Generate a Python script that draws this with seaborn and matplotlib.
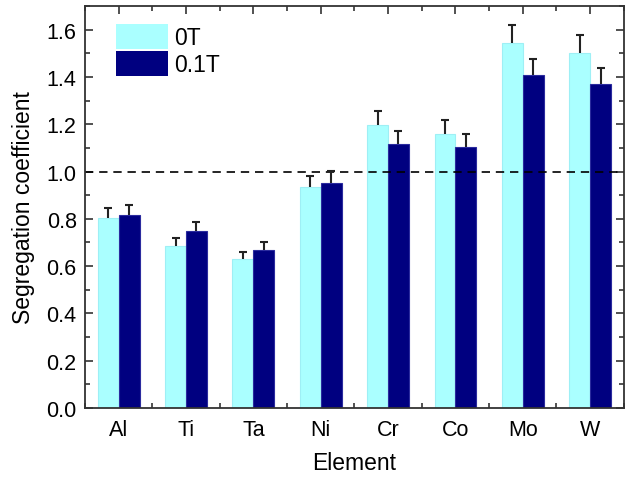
import numpy as np
import pandas as pd
import matplotlib
matplotlib.use("Agg")
import matplotlib.pyplot as plt
from matplotlib.ticker import MultipleLocator, FormatStrFormatter
import seaborn as sns

elements = ["Al", "Ti", "Ta", "Ni", "Cr", "Co", "Mo", "W"]
field_labels = ["0T", "0.1T"]
coef_0T = [0.805, 0.684, 0.629, 0.936, 1.197, 1.161, 1.544, 1.503]
coef_01T = [0.817, 0.747, 0.668, 0.953, 1.117, 1.106, 1.407, 1.369]
err_0T = [0.040, 0.034, 0.031, 0.045, 0.060, 0.058, 0.077, 0.076]
err_01T = [0.041, 0.038, 0.034, 0.049, 0.055, 0.054, 0.071, 0.070]

df = pd.DataFrame({
    "Element": elements * 2,
    "Field": [field_labels[0]] * len(elements) + [field_labels[1]] * len(elements),
    "Coefficient": coef_0T + coef_01T,
})

sns.set_style("ticks")
plt.rcParams["font.family"] = ["Liberation Sans", "DejaVu Sans"]
plt.rcParams["text.color"] = "black"
plt.rcParams["axes.labelcolor"] = "black"
plt.rcParams["xtick.labelcolor"] = "black"
plt.rcParams["ytick.labelcolor"] = "black"

fig = plt.figure(figsize=(6.25, 4.81), dpi=100)
ax = fig.add_axes([0.136, 0.150, 0.862, 0.835])

fill = {"0T": "#AAFFFF", "0.1T": "#000080"}
edge = {"0T": "#9EEFF5", "0.1T": "#2B2B9E"}
sns.barplot(data=df, x="Element", y="Coefficient", hue="Field",
            order=elements, hue_order=field_labels, palette=fill,
            width=0.62, saturation=1, errorbar=None, ax=ax)

bars = ax.patches[:2 * len(elements)]
bar_fields = [field_labels[0]] * len(elements) + [field_labels[1]] * len(elements)
for p, f in zip(bars, bar_fields):
    p.set_edgecolor(edge[f])
    p.set_linewidth(0.8)

# one-sided (upper) error bars on top of each bar
errs = err_0T + err_01T
for p, e in zip(bars, errs):
    xc = p.get_x() + p.get_width() / 2
    _, caps, _ = ax.errorbar(xc, p.get_height(), yerr=[[0], [e]], fmt="none",
                             ecolor="#222222", elinewidth=1.5, capsize=3.2,
                             capthick=1.5, zorder=3)
    caps[0].set_visible(False)

ax.axhline(1.0, color="black", linestyle=(0, (5, 3.5)), linewidth=1.2, zorder=1)

ax.set_xlim(-0.5, 7.5)
ax.set_ylim(0, 1.7)
ax.yaxis.set_major_locator(MultipleLocator(0.2))
ax.yaxis.set_minor_locator(MultipleLocator(0.1))
ax.yaxis.set_major_formatter(FormatStrFormatter("%.1f"))
ax.set_xticks(range(len(elements)))
ax.set_xticks(np.arange(-0.5, len(elements), 1.0), minor=True)
ax.set_xticklabels(elements)
ax.tick_params(axis="both", which="both", direction="in", top=True, right=True,
               color="#333333", width=1.2, labelcolor="black")
ax.tick_params(axis="both", which="major", length=6, labelsize=15.5)
ax.tick_params(axis="x", which="major", pad=8)
ax.tick_params(axis="y", which="major", pad=6)
ax.tick_params(axis="both", which="minor", length=3.5)

for s in ax.spines.values():
    s.set_color("#333333")
    s.set_linewidth(1.3)

ax.set_xlabel("Element", fontsize=16.5, labelpad=8, color="black")
ax.set_ylabel("Segregation coefficient", fontsize=16.5, labelpad=8, color="black")

leg = ax.legend(loc="upper left", frameon=False, fontsize=16.5,
                handlelength=2.25, handleheight=1.3, handletextpad=0.28,
                labelspacing=0.08, borderpad=0.0, borderaxespad=0.0,
                bbox_to_anchor=(0.0575, 0.955))
for h in leg.legend_handles:
    h.set_edgecolor("none")
for t in leg.get_texts():
    t.set_color("black")

fig.savefig("out.png", dpi=100)
